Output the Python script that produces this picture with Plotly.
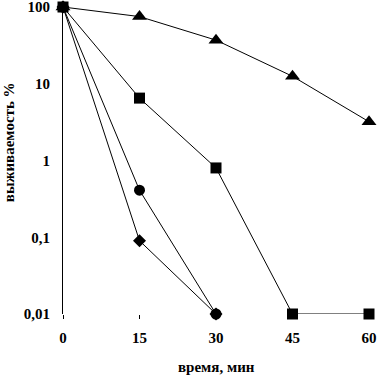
import plotly.graph_objects as go

times = [0, 15, 30, 45, 60]
tri = [100, 75, 37, 12.5, 3.2]
sq = [100, 6.5, 0.8, 0.01, 0.01]
circ_t = [0, 15, 30]
circ = [100, 0.41, 0.01]
dia_t = [0, 15, 30]
dia = [100, 0.09, 0.01]

y_ticks = [0.01, 0.1, 1, 10, 100]
y_labels = ["0,01", "0,1", "1", "10", "100"]
x_ticks = [0, 15, 30, 45, 60]
x_labels = ["0", "15", "30", "45", "60"]

fig = go.Figure()
line = dict(color="black", width=1)
fig.add_trace(go.Scatter(x=dia_t, y=dia, mode="lines+markers", line=line,
                         marker=dict(symbol="diamond", size=10, color="black"), cliponaxis=False))
fig.add_trace(go.Scatter(x=circ_t, y=circ, mode="lines+markers", line=line,
                         marker=dict(symbol="circle", size=11, color="black"), cliponaxis=False))
fig.add_trace(go.Scatter(x=times, y=sq, mode="lines+markers", line=line,
                         marker=dict(symbol="square", size=11, color="black"), cliponaxis=False))
fig.add_trace(go.Scatter(x=times, y=tri, mode="lines+markers", line=line,
                         marker=dict(symbol="triangle-up", size=13, color="black"), cliponaxis=False))

ff = "Liberation Serif"
font = dict(family=ff, size=15, color="black", weight="bold")
fig.update_layout(
    width=377, height=375,
    margin=dict(l=63, r=8, t=7, b=61),
    paper_bgcolor="white", plot_bgcolor="white",
    showlegend=False,
    font=font,
    xaxis=dict(range=[0, 60], tickvals=x_ticks, ticktext=x_labels,
               showgrid=False, zeroline=False, automargin=False, ticklabeloverflow="allow",
               showline=False, ticks="outside", ticklen=4, tickcolor="black",
               ticklabelstandoff=6, tickfont=font),
    yaxis=dict(type="log", range=[-2, 2], tickvals=y_ticks,
               ticktext=y_labels,
               showgrid=False, zeroline=False, showline=True, linecolor="black", linewidth=1,
               automargin=False, ticklabeloverflow="allow",
               ticks="", ticklabelstandoff=9, tickfont=font),
    annotations=[
        dict(text="выживаемость %", textangle=-90, xref="paper", yref="paper",
             x=-0.176, y=0.56, xanchor="center", yanchor="middle", showarrow=False, font=font),
        dict(text="время, мин", xref="paper", yref="paper",
             x=0.503, y=-0.173, xanchor="center", yanchor="middle", showarrow=False, font=font),
    ],
)
fig.write_html("out.html", post_script="document.body.style.margin='0';",
               config={"displayModeBar": False})
